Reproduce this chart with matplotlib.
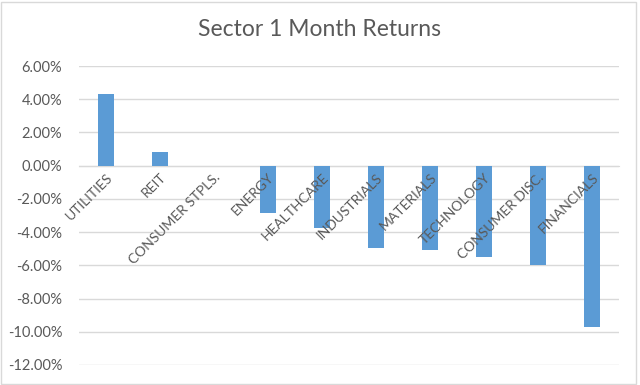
import numpy as np
import matplotlib
matplotlib.use("Agg")
import matplotlib.pyplot as plt
from matplotlib.patches import Rectangle
from matplotlib.ticker import FuncFormatter, MultipleLocator

# --- data (percent) ---
sectors = ["UTILITIES", "REIT", "CONSUMER STPLS.", "ENERGY", "HEALTHCARE",
           "INDUSTRIALS", "MATERIALS", "TECHNOLOGY", "CONSUMER DISC.", "FINANCIALS"]
returns = [4.32, 0.80, 0.0, -2.87, -3.73, -4.94, -5.10, -5.51, -5.97, -9.74]

BAR_COLOR = "#5B9BD5"
GRID_COLOR = "#D9D9D9"
TEXT_COLOR = "#595959"

plt.rcParams["font.family"] = ["Lato", "DejaVu Sans"]

fig = plt.figure(figsize=(6.4, 3.85), dpi=100)
ax = fig.add_axes([79/640, 1 - 365/385, 540/640, 299/385])

x = np.arange(len(sectors))
ax.bar(x, returns, width=0.31, color=BAR_COLOR, zorder=2)

ax.set_xlim(-0.5, len(sectors) - 0.5)
ax.set_ylim(-12, 6)
ax.yaxis.set_major_locator(MultipleLocator(2))
ax.yaxis.set_major_formatter(FuncFormatter(lambda v, p: f"{v:.2f}%"))
# gridlines under the bars, tick labels above them
for v in ax.get_yticks():
    if -12 <= v <= 6:
        ax.axhline(v, color=GRID_COLOR, lw=1, zorder=1)
ax.set_axisbelow(False)
ax.tick_params(axis="y", length=0, labelsize=10.5, labelcolor=TEXT_COLOR, pad=12)

# category axis sits on the zero line
for s in ["top", "right", "left"]:
    ax.spines[s].set_visible(False)
ax.spines["bottom"].set_position(("data", 0))
ax.spines["bottom"].set_color(GRID_COLOR)
ax.spines["bottom"].set_zorder(1)
ax.set_xticks(x)
ax.set_xticklabels(sectors, rotation=45, ha="right", va="top",
                   rotation_mode="anchor")
ax.tick_params(axis="x", length=0, labelsize=10, labelcolor=TEXT_COLOR, pad=4)

fig.text(0.5, 1 - 30/385, "Sector 1 Month Returns", ha="center", va="center",
         fontsize=16.5, color=TEXT_COLOR)

# light chart border
fig.patches.append(Rectangle((0.002, 0.003), 0.991, 0.993, transform=fig.transFigure,
                             fill=False, edgecolor="#D9D9D9", lw=1))

fig.savefig("out.png", dpi=100)
